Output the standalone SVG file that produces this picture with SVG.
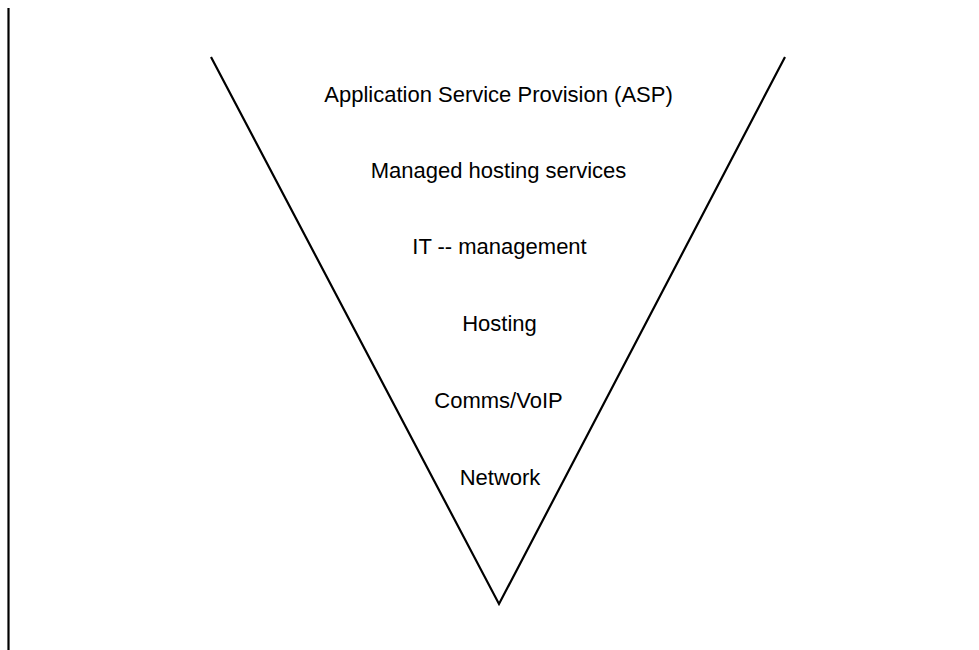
<svg xmlns="http://www.w3.org/2000/svg" width="979" height="650" viewBox="0 0 979 650">
<style>
.lbl{font-family:"Liberation Sans",Arial,sans-serif;font-size:22px;fill:#000;text-anchor:middle}
.ln{stroke:#000;stroke-width:2.2;fill:none}
</style>
<rect width="979" height="650" fill="#fff"/>
<line class="ln" x1="8.5" y1="8" x2="8.5" y2="650"/>
<g id="funnel">
<polyline class="ln" points="211,57 499,604 785,57"/>
</g>
<g id="asp"><text class="lbl" x="498.5" y="102">Application Service Provision (ASP)</text></g>
<g id="managed"><text class="lbl" x="498.5" y="178">Managed hosting services</text></g>
<g id="itmgmt"><text class="lbl" x="499.5" y="254">IT -- management</text></g>
<g id="hosting"><text class="lbl" x="499.5" y="331">Hosting</text></g>
<g id="comms"><text class="lbl" x="498.5" y="408">Comms/VoIP</text></g>
<g id="network"><text class="lbl" x="500" y="485">Network</text></g>
</svg>
